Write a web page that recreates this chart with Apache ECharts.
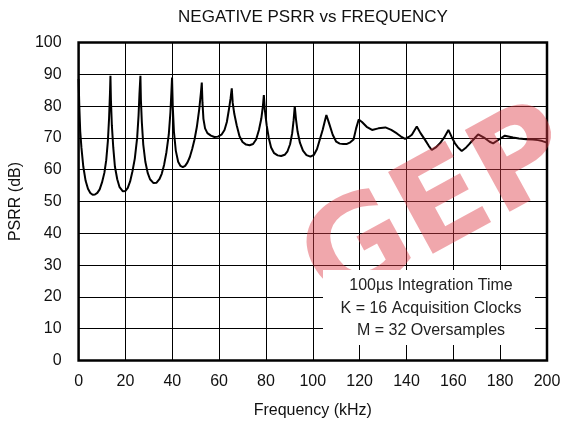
<!DOCTYPE html>
<html>
<head>
<meta charset="utf-8">
<script src="https://cdn.jsdelivr.net/npm/echarts@6/dist/echarts.min.js"></script>
<style>html,body{margin:0;padding:0;background:#fff}#c{width:565px;height:428px}</style>
</head>
<body>
<div id="c"></div>
<script>
// Frequency (kHz) and PSRR (dB)
const freq = [0,0.3,0.7,1.2,2,3,4,5,6,7,8,9,10,11,11.8,12.5,13,13.4,13.6,
  13.8,14.2,14.8,15.5,16.5,17.5,18.9,20,21,22,23,24,25,25.6,26,26.4,
  26.6,27,27.6,28.5,29.5,30.5,32,33.3,34.5,35.5,36.5,37.5,38.5,39.2,39.6,39.9,
  40.2,40.7,41.5,42.5,43.5,44.5,45.5,46.5,47.5,48.5,49.5,50.5,51.5,52.2,52.6,
  52.9,53.3,54,55,56.5,58,59.5,61,62.3,63.3,64.2,64.9,65.4,
  65.8,66.5,67.5,68.7,70,71.5,73,74.5,75.8,77,78,78.7,79.1,
  79.5,80.3,81.2,82.2,83.5,85,86.5,88,89.2,90.3,91.2,91.8,92.3,
  92.8,93.5,94.5,95.8,97.3,99,100.5,101.8,103,104.2,105.2,105.8,
  107,108.5,110,111.5,113,114.6,116,117.4,118.5,119.6,
  121,123,125.3,128,131,133.5,135.9,137.5,139.4,141,142.3,143.5,144.4,
  146,148,149.5,150.8,152.5,154.3,156,157.9,159.3,160.7,162,163.6,165.5,167.1,169,170.6,
  173.5,175.5,177,179.5,182,185.5,188,191.2,194,196.2,198,200];
const psrr = [88.5,80,72,67,61,56.5,54,52.7,52.1,52.2,52.7,53.8,56,59,63,69,76,84,89.5,
  82,74,67,61,57,54.5,53.2,53.3,54.3,56.3,59.5,63.5,70,77,84,89.5,
  82,75,68,62.5,59,57,55.8,55.9,57,58.7,61.5,65.5,71,78,84,89,
  80,72,66,62.5,61.2,60.8,61.2,62.3,64,66.5,69.5,73.5,79,84,87.4,
  81,76,73,71.5,70.7,70.3,70.4,71,72.5,75,79,82.5,85.6,
  81,77.5,74,70.5,68.7,67.9,67.7,68.1,69.5,72.5,76,80,83.5,
  79,74,70,67,65.2,64.5,64.3,64.7,65.8,68,71.5,75.5,80,
  76,72,68.5,66,64.6,64.1,64.7,66.5,69.5,72.5,75.5,77.2,
  74.5,71,68.8,68.2,68.1,68.1,68.6,69.5,73,75.8,
  75,73.5,72.5,73,73.3,72.5,71.4,70.5,69.7,70.3,71,72.5,73.6,
  71.5,69.3,67.5,66.2,67,68.3,70,72.5,70.3,68.3,67,65.9,67,68.3,69.8,71.1,
  69.9,68.8,68.3,69.5,70.7,70.1,69.8,69.6,69.5,69.3,69,68.5];
const xTicks = [0,20,40,60,80,100,120,140,160,180,200];
const yTicks = [0,10,20,30,40,50,60,70,80,90,100];
const noteLines = ['100µs Integration Time','K = 16 Acquisition Clocks','M = 32 Oversamples'];

const FONT = '"Liberation Sans", Arial, sans-serif';
const chart = echarts.init(document.getElementById('c'), null, {renderer: 'canvas'});
const data = freq.map((f, i) => [f, psrr[i]]);
chart.setOption({
  animation: false,
  backgroundColor: '#fff',
  title: {
    text: 'NEGATIVE PSRR vs FREQUENCY',
    left: 313, top: 9, padding: 0, textAlign: 'center',
    textStyle: {fontFamily: FONT, fontSize: 17, fontWeight: 'normal', color: '#111'}
  },
  grid: {left: 77, right: 18, top: 42.5, bottom: 67.5, show: true, borderColor: '#000', borderWidth: 2.5, backgroundColor: 'transparent'},
  xAxis: {
    type: 'value', min: xTicks[0], max: xTicks[xTicks.length - 1], interval: 20,
    name: 'Frequency (kHz)', nameLocation: 'middle', nameGap: 42,
    nameTextStyle: {fontFamily: FONT, fontSize: 16, color: '#111'},
    axisLine: {show: false}, axisTick: {show: false},
    axisLabel: {fontFamily: FONT, fontSize: 16, color: '#111', margin: 13},
    splitLine: {show: true, lineStyle: {color: '#000', width: 1}}
  },
  yAxis: {
    type: 'value', min: yTicks[0], max: yTicks[yTicks.length - 1], interval: 10,
    name: 'PSRR (dB)', nameLocation: 'middle', nameGap: 51,
    nameTextStyle: {fontFamily: FONT, fontSize: 16, color: '#111'},
    axisLine: {show: false}, axisTick: {show: false},
    axisLabel: {fontFamily: FONT, fontSize: 16, color: '#111', margin: 17},
    splitLine: {show: true, lineStyle: {color: '#000', width: 1}}
  },
  series: [{
    type: 'line', data: data, showSymbol: false, smooth: false,
    lineStyle: {color: '#000', width: 2}, z: 3
  }],
  graphic: [
    {
      type: 'text', z: 50, x: 440, y: 212, rotation: 0.5,
      style: {text: 'GEP', font: '900 128px "DejaVu Sans"', fill: 'rgba(222,60,72,0.45)', textAlign: 'center', textVerticalAlign: 'middle'}
    },
    {
      type: 'rect', z: 60, shape: {x: 323, y: 270, width: 212, height: 75}, style: {fill: '#fff'}
    },
    ...noteLines.map((t, i) => ({
      type: 'text', z: 61, x: 431, y: 286 + i * 22.5,
      style: {text: t, font: '16px ' + FONT, fill: '#222', textAlign: 'center', textVerticalAlign: 'middle'}
    }))
  ]
});
</script>
</body>
</html>
